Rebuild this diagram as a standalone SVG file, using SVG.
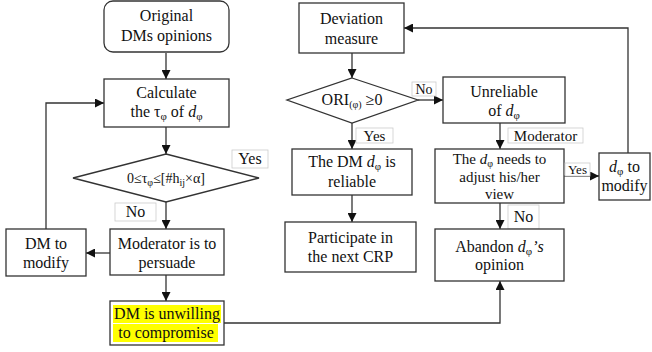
<svg xmlns="http://www.w3.org/2000/svg" width="652" height="352" viewBox="0 0 652 352">
<defs>
<marker id="ah" viewBox="0 0 10 10" refX="10" refY="5" markerWidth="9" markerHeight="9" markerUnits="userSpaceOnUse" orient="auto">
<path d="M0,0 L10,5 L0,10 z" fill="#111"/>
</marker>
</defs>
<rect width="652" height="352" fill="#fff"/>

<g id="connectors" fill="none" stroke="#333" stroke-width="1.3" marker-end="url(#ah)">
<line x1="166" y1="53" x2="166" y2="79"/>
<line x1="166" y1="127" x2="166" y2="154"/>
<line x1="166" y1="202" x2="166" y2="229"/>
<line x1="110" y1="253" x2="86" y2="253"/>
<polyline points="46,229 46,103 104,103"/>
<line x1="166" y1="275" x2="166" y2="301"/>
<polyline points="224,323 500,323 500,281"/>
<line x1="352" y1="53" x2="352" y2="78"/>
<line x1="418" y1="100" x2="443" y2="100"/>
<line x1="352" y1="123" x2="352" y2="149"/>
<line x1="352" y1="195" x2="352" y2="222"/>
<line x1="500" y1="123" x2="500" y2="149"/>
<line x1="564" y1="176" x2="599" y2="176"/>
<line x1="500" y1="203" x2="500" y2="229"/>
<polyline points="628,153 628,28 404,28"/>
</g>

<g font-family="Liberation Serif, Times New Roman, serif" font-size="16" text-anchor="middle" fill="#111">

<g id="n-original">
<rect x="104" y="1" width="125" height="51" rx="9" fill="#fff" stroke="#333" stroke-width="1.3"/>
<text x="166.5" y="21">Original</text>
<text x="166.5" y="41">DMs opinions</text>
</g>

<g id="n-calculate">
<rect x="104" y="79" width="125" height="48" fill="#fff" stroke="#333" stroke-width="1.3"/>
<text x="166.5" y="98">Calculate</text>
<text x="166.5" y="117">the &#964;<tspan font-size="11" dy="3">&#966;</tspan><tspan dy="-3"> of </tspan><tspan font-style="italic">d</tspan><tspan font-size="11" dy="3">&#966;</tspan></text>
</g>

<g id="n-cond1">
<polygon points="166,154 259,178 166,202 73,178" fill="#fff" stroke="#333" stroke-width="1.3"/>
<text x="166" y="183" font-size="14">0&#8804;&#964;<tspan font-size="10" dy="3">&#966;</tspan><tspan dy="-3">&#8804;[#h</tspan><tspan font-size="10" dy="3">ij</tspan><tspan dy="-3">&#215;&#945;]</tspan></text>
</g>

<g id="l-yes1">
<rect x="232" y="150" width="36" height="18" fill="#fff" stroke="#ccc" stroke-width="0.8"/>
<text x="250" y="164">Yes</text>
</g>

<g id="l-no1">
<rect x="115" y="203" width="41" height="18" fill="#fff" stroke="#ccc" stroke-width="0.8"/>
<text x="135.5" y="217">No</text>
</g>

<g id="n-moderator">
<rect x="110" y="229" width="114" height="46" fill="#fff" stroke="#333" stroke-width="1.3"/>
<text x="167" y="249">Moderator is to</text>
<text x="167" y="268">persuade</text>
</g>

<g id="n-dm-modify">
<rect x="6" y="229" width="80" height="47" fill="#fff" stroke="#333" stroke-width="1.3"/>
<text x="46" y="249">DM to</text>
<text x="46" y="268">modify</text>
</g>

<g id="n-unwilling">
<rect x="110" y="301" width="114" height="44" fill="#fff" stroke="#333" stroke-width="1.3"/>
<rect x="113" y="305" width="108" height="18" fill="#ffff00"/>
<rect x="113" y="324" width="105" height="18" fill="#ffff00"/>
<text x="167" y="319">DM is unwilling</text>
<text x="166" y="338">to compromise</text>
</g>

<g id="n-deviation">
<rect x="299" y="3" width="105" height="50" fill="#fff" stroke="#333" stroke-width="1.3"/>
<text x="351.5" y="24">Deviation</text>
<text x="351.5" y="44">measure</text>
</g>

<g id="n-ori">
<polygon points="352,78 418,100 352,123 287,100" fill="#fff" stroke="#333" stroke-width="1.3"/>
<text x="352" y="105">ORI<tspan font-size="10" dy="3">(&#966;)</tspan><tspan dy="-3"> &#8805;0</tspan></text>
</g>

<g id="l-no2">
<rect x="412" y="82" width="24" height="14" fill="#fff" stroke="#ccc" stroke-width="0.8"/>
<text x="424" y="94" font-size="14">No</text>
</g>

<g id="l-yes2">
<rect x="356" y="128" width="37" height="15" fill="#fff" stroke="#ccc" stroke-width="0.8"/>
<text x="374.5" y="141" font-size="15">Yes</text>
</g>

<g id="n-unreliable">
<rect x="443" y="77" width="122" height="46" fill="#fff" stroke="#333" stroke-width="1.3"/>
<text x="504" y="97">Unreliable</text>
<text x="504" y="116">of <tspan font-style="italic">d</tspan><tspan font-size="11" dy="3">&#966;</tspan></text>
</g>

<g id="l-moderator">
<rect x="508" y="128" width="75" height="15" fill="#fff" stroke="#ccc" stroke-width="0.8"/>
<text x="545.5" y="141" font-size="15">Moderator</text>
</g>

<g id="n-reliable">
<rect x="292" y="149" width="120" height="46" fill="#fff" stroke="#333" stroke-width="1.3"/>
<text x="352" y="167">The DM <tspan font-style="italic">d</tspan><tspan font-size="11" dy="3">&#966;</tspan><tspan dy="-3"> is</tspan></text>
<text x="352" y="187">reliable</text>
</g>

<g id="n-participate">
<rect x="285" y="222" width="131" height="50" fill="#fff" stroke="#333" stroke-width="1.3"/>
<text x="350.5" y="243">Participate in</text>
<text x="350.5" y="262">the next CRP</text>
</g>

<g id="n-needs">
<rect x="435" y="149" width="129" height="54" fill="#fff" stroke="#333" stroke-width="1.3"/>
<text x="499.5" y="164" font-size="15">The <tspan font-style="italic">d</tspan><tspan font-size="10" dy="3">&#966;</tspan><tspan dy="-3"> needs to</tspan></text>
<text x="499.5" y="182" font-size="15">adjust his/her</text>
<text x="499.5" y="199" font-size="15">view</text>
</g>

<g id="l-yes3">
<rect x="565" y="163" width="25" height="13" fill="#fff" stroke="#ccc" stroke-width="0.8"/>
<text x="577.5" y="174" font-size="13">Yes</text>
</g>

<g id="n-d-modify">
<rect x="599" y="153" width="51" height="47" fill="#fff" stroke="#333" stroke-width="1.3"/>
<text x="624.5" y="172"><tspan font-style="italic">d</tspan><tspan font-size="11" dy="3">&#966;</tspan><tspan dy="-3"> to</tspan></text>
<text x="624.5" y="191">modify</text>
</g>

<g id="l-no3">
<rect x="508" y="205" width="31" height="24" fill="#fff" stroke="#ccc" stroke-width="0.8"/>
<text x="523.5" y="222">No</text>
</g>

<g id="n-abandon">
<rect x="435" y="229" width="129" height="52" fill="#fff" stroke="#333" stroke-width="1.3"/>
<text x="499.5" y="252">Abandon <tspan font-style="italic">d</tspan><tspan font-size="11" dy="3">&#966;</tspan><tspan font-style="italic" dy="-3">&#8217;s</tspan></text>
<text x="499.5" y="270">opinion</text>
</g>
</g>
</svg>
